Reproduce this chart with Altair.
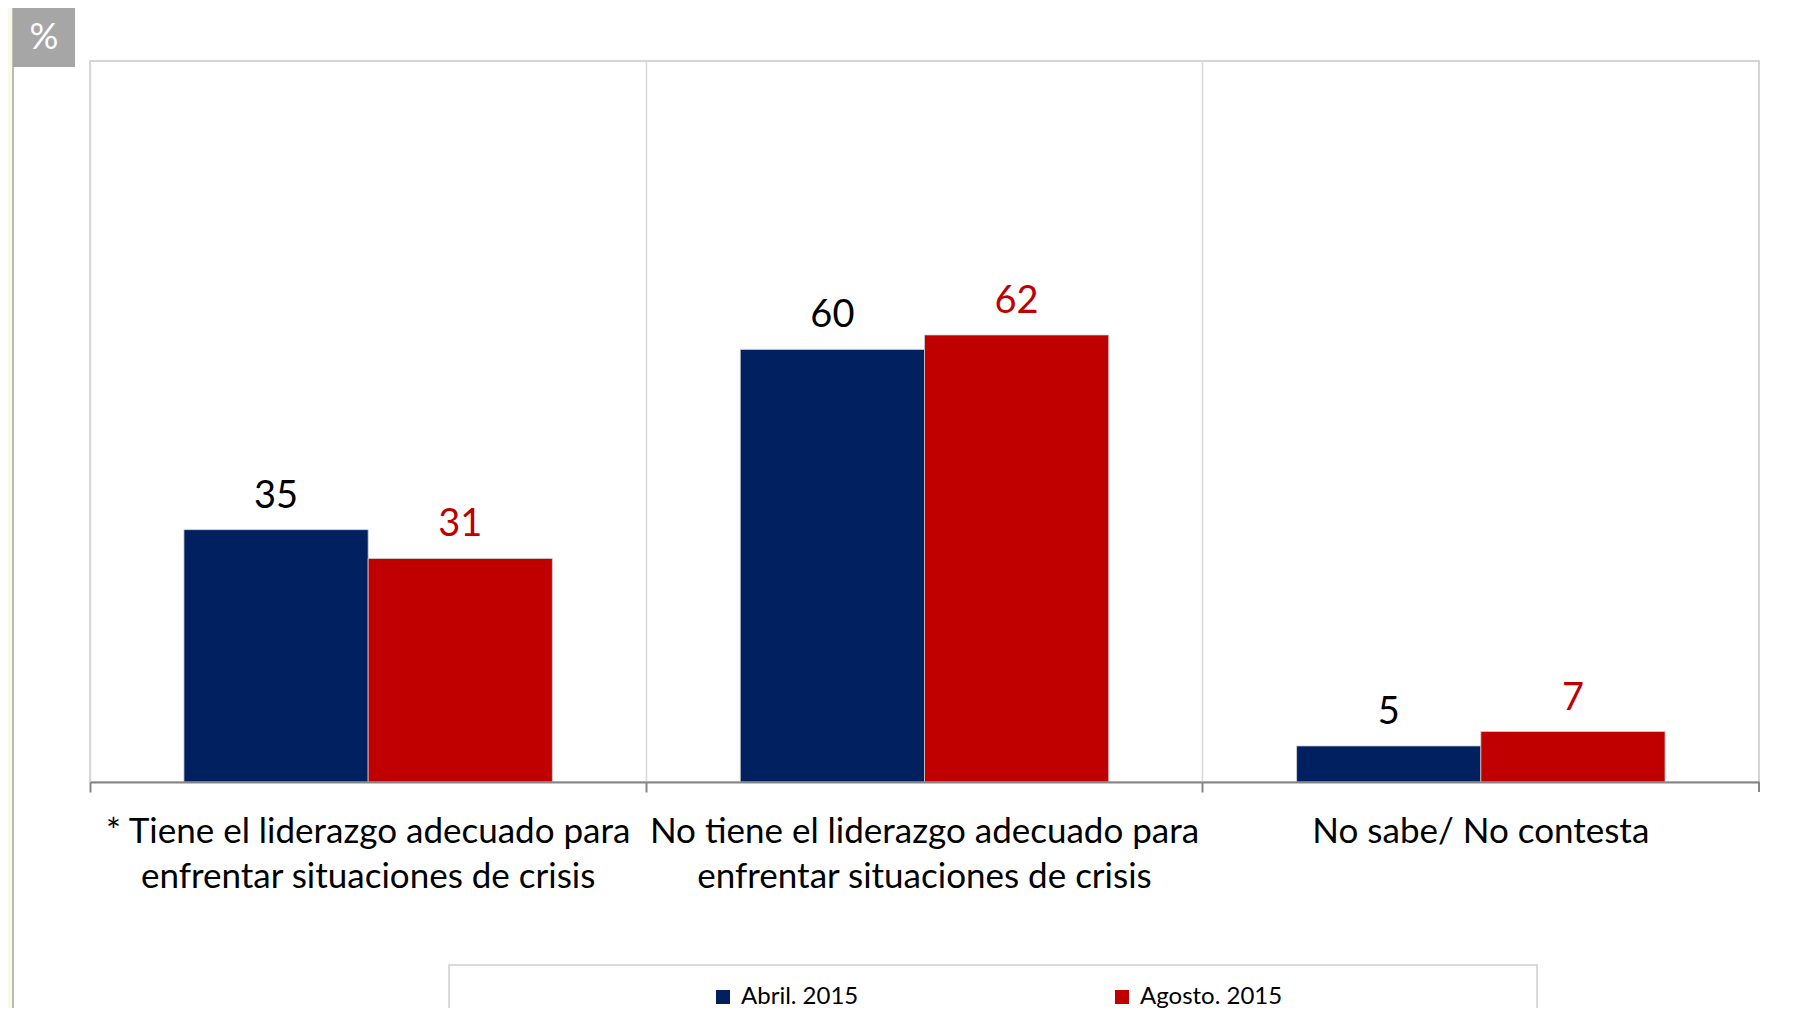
import json
import altair as alt
import pandas as pd

# ---------------- data ----------------
categorias = [
    "* Tiene el liderazgo adecuado para enfrentar situaciones de crisis",
    "No tiene el liderazgo adecuado para enfrentar situaciones de crisis",
    "No sabe/ No contesta",
]
lineas = [
    ["* Tiene el liderazgo adecuado para", "enfrentar situaciones de crisis"],
    ["No tiene el liderazgo adecuado para", "enfrentar situaciones de crisis"],
    ["No sabe/ No contesta"],
]
series = ["Abril. 2015", "Agosto. 2015"]
abril = [35, 60, 5]
agosto = [31, 62, 7]
colores = ["#002060", "#C00000"]
colores_texto = ["#000000", "#C00000"]

rows = []
for c, a, g in zip(categorias, abril, agosto):
    rows.append({"categoria": c, "serie": series[0], "valor": a})
    rows.append({"categoria": c, "serie": series[1], "valor": g})
df = pd.DataFrame(rows)
deco = pd.DataFrame({"d": [0]})

W, H = 1669, 721
FONT = "Lato"

# label expression producing multi-line labels
expr = "''"
for c, l in reversed(list(zip(categorias, lineas))):
    expr = f"datum.value == {json.dumps(c)} ? {json.dumps(l)} : ({expr})"

x_enc = alt.X(
    "categoria:N",
    sort=categorias,
    scale=alt.Scale(paddingInner=0, paddingOuter=0),
    axis=alt.Axis(
        title=None,
        bandPosition=0,
        grid=True,
        gridColor="#D9D9D9",
        gridWidth=1.5,
        domainColor="#868686",
        domainWidth=2,
        tickColor="#868686",
        tickWidth=2,
        tickSize=10,
        labelFont=FONT,
        labelFontSize=35,
        labelColor="#000000",
        labelPadding=50,
        labelLineHeight=45,
        labelBaseline="alphabetic",
        labelAngle=0,
        labelLimit=0,
        labelExpr=expr,
        zindex=1,
    ),
)
xoff = alt.XOffset("serie:N", sort=series, scale=alt.Scale(paddingOuter=0.51, paddingInner=0))
y_enc = alt.Y("valor:Q", scale=alt.Scale(domain=[0, 100]), axis=None)

base = alt.Chart(df)

bars = base.mark_bar(stroke="#CFCFCF", strokeWidth=0.8).encode(
    x=x_enc,
    xOffset=xoff,
    y=y_enc,
    color=alt.Color(
        "serie:N",
        sort=series,
        scale=alt.Scale(domain=series, range=colores),
        legend=alt.Legend(
            title=None,
            orient="none",
            legendX=621,
            legendY=924,
            direction="horizontal",
            columns=2,
            columnPadding=251,
            symbolType="square",
            symbolSize=196,
            symbolStrokeWidth=0,
            labelFont=FONT,
            labelFontSize=24,
            labelColor="#000000",
            labelOffset=6,
            padding=0,
        ),
    ),
)

texts = base.mark_text(baseline="alphabetic", dy=-22, font=FONT, fontSize=38).encode(
    x=alt.X("categoria:N", sort=categorias),
    xOffset=alt.XOffset("serie:N", sort=series),
    y=alt.Y("valor:Q"),
    text=alt.Text("valor:Q"),
    color=alt.condition(
        alt.datum.serie == series[0], alt.value(colores_texto[0]), alt.value(colores_texto[1])
    ),
)

d = alt.Chart(deco)
panel = d.mark_rect(fill="#FFFFFF", stroke="#A6A6A6", strokeWidth=1.5).encode(
    x=alt.value(-77), x2=alt.value(1760), y=alt.value(-54), y2=alt.value(1000)
)
badge = d.mark_rect(fill="#A6A6A6").encode(
    x=alt.value(-77), x2=alt.value(-15), y=alt.value(-54), y2=alt.value(6)
)
pct = d.mark_text(text="%", color="#FFFFFF", font=FONT, fontSize=36,
                  align="center", baseline="middle").encode(
    x=alt.value(-46), y=alt.value(-23)
)
frame = d.mark_rect(fillOpacity=0, stroke="#C8C8C8", strokeWidth=1.5).encode(
    x=alt.value(0), x2=alt.value(W), y=alt.value(0), y2=alt.value(H)
)
legframe = d.mark_rect(fillOpacity=0, stroke="#D0D0D0", strokeWidth=1.5).encode(
    x=alt.value(359), x2=alt.value(1447), y=alt.value(904), y2=alt.value(1000)
)
endtick = d.mark_rule(color="#868686", strokeWidth=2).encode(
    x=alt.value(W), y=alt.value(H), y2=alt.value(H + 10)
)

chart = (
    alt.layer(panel, badge, pct, frame, legframe, bars, texts, endtick)
    .properties(
        width=W,
        height=H,
        autosize="none",
        padding={"left": 82, "top": 53, "right": 49, "bottom": 226},
    )
    .configure(background="#FAF8EB")
    .configure_view(strokeWidth=0)
)

chart.save("out.html", embed_options={"renderer": "svg", "actions": False})
